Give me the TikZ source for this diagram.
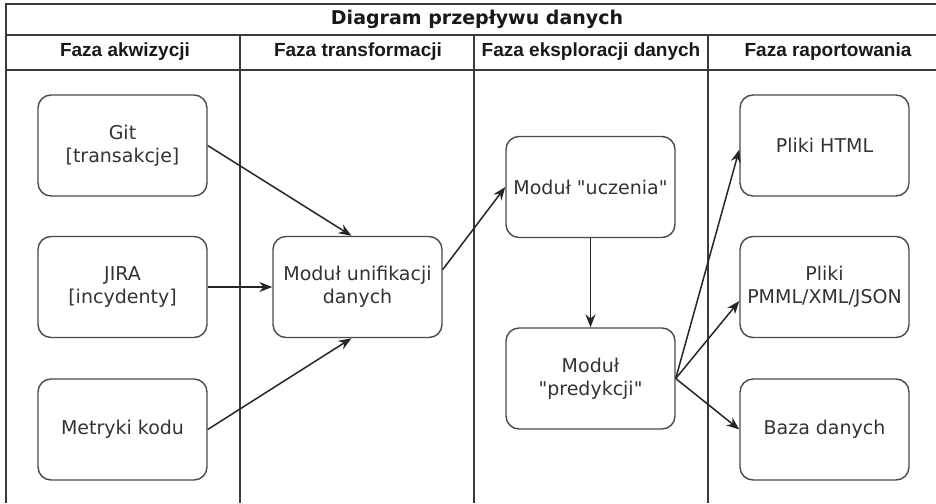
\documentclass[tikz,border=0pt]{standalone}
\usepackage{fontspec}
\setmainfont{DejaVu Sans}
\newfontfamily\headfont{Liberation Sans}
\usetikzlibrary{arrows.meta,calc}
\definecolor{lanegray}{HTML}{3A3A3A}
\definecolor{boxgray}{HTML}{4A4A4A}
\definecolor{txtgray}{HTML}{333333}

\begin{document}
\begin{tikzpicture}[x=1pt, y=-1pt,
    modul/.style={draw=boxgray, line width=1.4pt, rounded corners=13pt,
        minimum width=169pt, minimum height=101pt, align=center,
        text=txtgray, font=\fontsize{19}{23}\selectfont},
    faza/.style={font=\headfont\bfseries\fontsize{19}{22}\selectfont, text=black!90},
    flow/.style={draw=black!85, line width=1.5pt, -{Stealth[length=13pt, width=10pt]}}]
    \useasboundingbox (0,0) rectangle (936,503);
    % ramka i tory
    \draw[lanegray, line width=1.6pt] (6,503) -- (6,4) -- (936,4);
    \draw[lanegray, line width=1.6pt] (6,35) -- (936,35);
    \draw[lanegray, line width=1.6pt] (6,70) -- (936,70);
    \draw[lanegray, line width=1.6pt] (240,35) -- (240,503);
    \draw[lanegray, line width=1.6pt] (474,35) -- (474,503);
    \draw[lanegray, line width=1.6pt] (708,35) -- (708,503);
    \node[font=\bfseries\fontsize{19}{22}\selectfont, text=black!90] (tytul) at (477,19) {Diagram przepływu danych};
    \node[faza] (f1) at (125,52) {Faza akwizycji};
    \node[faza] (f2) at (358,52) {Faza transformacji};
    \node[faza] (f3) at (591,52) {Faza eksploracji danych};
    \node[faza] (f4) at (828,52) {Faza raportowania};
    % moduly
    \node[modul] (git) at (122.5,145.5) {Git\\{[transakcje]}};
    \node[modul] (jira) at (122.5,287) {JIRA\\{[incydenty]}};
    \node[modul] (metryki) at (122.5,429.5) {Metryki kodu};
    \node[modul] (unif) at (357.5,287) {Moduł unifikacji\\danych};
    \node[modul] (uczenie) at (590.5,187) {Moduł \textquotedbl uczenia\textquotedbl};
    \node[modul] (predykcja) at (590.5,378.5) {Moduł\\\textquotedbl predykcji\textquotedbl};
    \node[modul] (html) at (824.5,145.5) {Pliki HTML};
    \node[modul] (pmml) at (824.5,287) {Pliki\\PMML/XML/JSON};
    \node[modul] (baza) at (824.5,429.5) {Baza danych};
    % przeplyw
    \draw[flow] (git.east) -- ($(unif.north)+(-6,0)$);
    \draw[flow] (jira.east) -- (unif.west);
    \draw[flow] (metryki.east) -- ($(unif.south)+(-6,0)$);
    \draw[flow] ($(unif.north east)!0.33!(unif.south east)$) -- (uczenie.west);
    \draw[flow] (uczenie.south) -- (predykcja.north);
    \draw[flow] (predykcja.east) -- ($(html.west)+(0,4)$);
    \draw[flow] (predykcja.east) -- ($(pmml.west)+(0,14)$);
    \draw[flow] (predykcja.east) -- (baza.west);
\end{tikzpicture}
\end{document}
